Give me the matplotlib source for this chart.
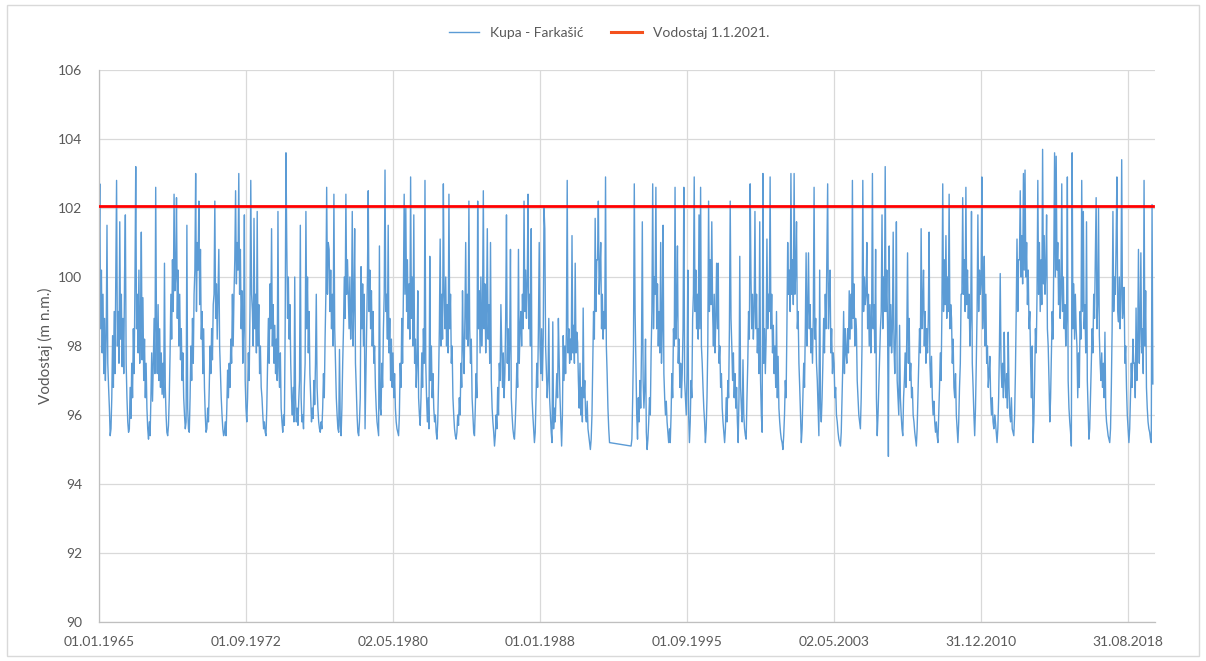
import numpy as np
import pandas as pd
import matplotlib
matplotlib.use("Agg")
import matplotlib.pyplot as plt
from matplotlib.lines import Line2D
from matplotlib.patches import Rectangle

nan = np.nan

# Water level of the Kupa at Farkašić (m a.s.l.), 24 readings per year (half-monthly)
levels_1965_1969 = [
    100.5, 102.7, 98.5, 100.2, 97.8, 99.5, 97.2, 98.8, 97.0, 98.2, 101.5, 97.5, 96.8, 96.2, 95.4, 95.6, 96.5, 98.3, 96.8, 99.0, 97.2, 100.0, 102.8, 98.0,
    99.0, 97.5, 101.6, 98.2, 99.5, 97.4, 98.8, 97.2, 100.0, 101.8, 97.5, 96.5, 95.8, 95.5, 95.6, 96.8, 95.9, 97.5, 96.5, 98.5, 97.2, 99.8, 103.2, 98.5,
    99.5, 97.8, 100.2, 97.5, 98.8, 101.3, 97.6, 99.4, 97.0, 98.2, 96.5, 97.5, 96.2, 95.6, 95.3, 95.8, 95.4, 96.5, 97.8, 96.4, 97.5, 98.8, 97.2, 102.6,
    98.5, 97.2, 99.2, 97.0, 98.5, 96.8, 97.8, 96.6, 97.5, 96.5, 100.4, 96.8, 96.0, 95.5, 95.4, 95.7, 96.5, 97.8, 99.5, 98.2, 100.5, 99.0, 102.4, 99.6,
    100.0, 102.3, 98.8, 100.2, 98.0, 99.5, 97.6, 98.5, 97.0, 97.8, 96.5, 96.0, 95.6, 95.8, 101.5, 96.2, 95.6, 95.5, 96.5, 98.0, 97.0, 98.8, 97.5, 99.5,
]
levels_1970_1974 = [
    100.2, 103.0, 99.0, 101.0, 100.2, 102.2, 99.2, 100.8, 98.2, 99.0, 97.2, 98.5, 96.8, 96.0, 95.5, 95.6, 96.2, 95.8, 96.8, 98.0, 97.2, 98.5, 97.6, 99.2,
    99.5, 102.2, 98.8, 99.8, 98.2, 99.5, 100.8, 98.0, 97.2, 96.5, 96.0, 95.6, 95.4, 95.5, 95.8, 95.4, 96.2, 97.3, 96.5, 97.5, 96.8, 98.2, 97.5, 99.5,
    98.0, 99.5, 100.5, 102.5, 99.8, 101.0, 100.2, 103.0, 99.5, 100.8, 98.5, 99.6, 97.5, 98.5, 101.8, 97.0, 96.2, 95.8, 96.5, 97.8, 97.0, 99.0, 102.8, 99.5,
    99.0, 98.0, 101.7, 98.5, 99.5, 97.8, 101.9, 98.0, 99.2, 97.2, 98.0, 96.8, 96.5, 96.0, 95.6, 95.8, 95.5, 95.4, 96.2, 97.5, 98.8, 97.5, 99.8, 98.5,
    101.4, 98.0, 99.2, 97.5, 98.6, 97.2, 98.2, 97.0, 101.9, 97.4, 96.8, 97.8, 96.2, 95.8, 95.5, 96.0, 95.7, 98.5, 103.6, 101.0, 98.8, 100.0, 98.2, 99.2,
]
levels_1975_1979 = [
    97.5, 96.5, 96.0, 96.8, 95.8, 100.0, 96.5, 95.8, 96.2, 95.7, 96.4, 97.0, 101.5, 96.5, 95.8, 96.0, 95.6, 96.8, 97.5, 101.9, 98.5, 100.0, 97.8, 99.0,
    97.2, 96.5, 95.8, 96.2, 95.9, 97.0, 96.3, 97.5, 99.5, 96.8, 96.2, 95.8, 95.6, 95.5, 95.8, 95.6, 96.2, 97.2, 96.5, 98.2, 99.5, 102.6, 99.5, 101.0,
    100.8, 99.0, 100.2, 98.5, 99.5, 98.0, 102.4, 98.5, 97.5, 96.5, 96.0, 95.6, 95.5, 97.9, 95.7, 95.4, 96.2, 97.5, 98.5, 100.0, 98.8, 102.4, 99.5, 100.5,
    99.5, 98.5, 100.0, 98.2, 99.0, 101.9, 98.0, 99.2, 101.4, 97.5, 96.8, 96.0, 95.5, 95.4, 95.8, 96.5, 100.3, 98.5, 99.8, 98.0, 99.5, 95.6, 97.0, 98.5,
    100.0, 102.5, 99.0, 100.2, 98.5, 99.6, 98.0, 99.0, 97.5, 98.0, 96.8, 96.2, 95.8, 95.6, 95.4, 100.9, 96.2, 96.0, 97.5, 96.8, 98.5, 99.5, 103.1, 99.0,
]
levels_1980_1984 = [
    99.5, 98.2, 101.5, 97.8, 98.8, 97.0, 98.2, 96.8, 97.8, 96.5, 97.2, 96.2, 95.8, 95.6, 95.5, 95.4, 96.0, 97.5, 96.8, 98.8, 97.5, 99.5, 102.4, 99.5,
    102.0, 99.0, 100.5, 98.5, 99.8, 98.2, 102.9, 98.8, 100.0, 98.0, 101.8, 97.5, 98.2, 96.8, 97.5, 99.6, 96.5, 96.0, 95.7, 96.5, 97.8, 96.8, 98.5, 97.5,
    102.8, 97.5, 96.5, 95.8, 96.5, 95.6, 100.6, 97.0, 98.0, 96.5, 97.2, 96.2, 95.8, 96.0, 95.5, 95.3, 95.8, 97.0, 98.5, 101.1, 98.0, 99.5, 98.2, 102.7,
    99.5, 98.5, 100.0, 98.0, 99.2, 97.8, 102.4, 98.5, 99.5, 97.5, 98.0, 96.5, 96.0, 95.6, 95.4, 95.3, 95.5, 96.0, 95.7, 96.5, 96.0, 97.5, 96.8, 99.6,
    98.0, 97.2, 98.8, 101.0, 98.2, 99.5, 98.0, 102.2, 98.5, 97.5, 98.2, 96.5, 96.0, 95.5, 95.4, 96.2, 97.2, 96.5, 102.2, 98.5, 99.6, 97.8, 100.0, 98.0,
]
levels_1985_1989 = [
    99.0, 102.5, 98.5, 99.8, 97.8, 99.0, 101.4, 98.2, 99.2, 97.5, 101.0, 97.0, 96.2, 95.8, 95.5, 95.1, 95.4, 96.0, 95.6, 96.8, 96.0, 97.5, 97.0, 99.2,
    98.0, 96.8, 97.8, 96.5, 97.2, 98.8, 101.8, 97.5, 98.5, 97.0, 98.0, 100.8, 96.5, 96.0, 95.6, 95.4, 95.3, 95.8, 96.5, 97.5, 96.8, 100.8, 97.5, 98.5,
    99.0, 98.0, 99.5, 98.5, 102.2, 99.0, 100.2, 98.8, 99.8, 102.4, 98.5, 99.5, 98.0, 101.4, 96.5, 96.0, 95.6, 95.2, 95.5, 96.5, 97.5, 96.8, 98.5, 101.0,
    98.0, 97.2, 98.5, 97.0, 98.2, 102.0, 101.4, 98.0, 97.2, 96.5, 97.0, 98.8, 96.5, 96.0, 95.5, 95.2, 98.7, 95.6, 96.2, 95.8, 96.5, 97.2, 96.5, 98.8,
    97.5, 96.5, 95.8, 95.1, 96.0, 98.3, 97.0, 98.0, 97.2, 98.5, 102.8, 97.8, 98.5, 97.5, 98.2, 97.6, 101.2, 97.8, 98.6, 97.5, 100.4, 97.8, 98.4, 98.1,
]
# readings missing from mid-1991 to autumn 1992
levels_1990_1994 = [
    97.0, 96.2, 97.5, 96.0, 96.8, 95.8, 99.1, 96.5, 97.0, 96.0, 95.8, 96.4, 95.6, 95.4, 95.2, 95.0, 95.3, 96.0, 97.5, 99.0, 98.2, 101.7, 99.0, 100.5,
    100.5, 102.2, 99.5, 100.2, 101.0, 98.5, 99.5, 98.2, 99.0, 98.5, 102.9, 98.0, 97.2, 96.2, 95.6, 95.2, nan, nan, nan, nan, nan, nan, nan, nan,
    nan, nan, nan, nan, nan, nan, nan, nan, nan, nan, nan, nan, nan, nan, nan, nan, nan, nan, 95.1, 95.3, 96.5, 98.0, 102.7, 99.0,
    97.5, 96.0, 95.3, 96.5, 95.8, 97.0, 96.2, 98.0, 101.6, 97.0, 96.2, 96.8, 98.2, 95.5, 95.0, 95.3, 95.8, 96.5, 96.0, 97.8, 99.0, 102.7, 98.5, 100.0,
    99.5, 102.6, 98.5, 99.8, 98.0, 99.0, 97.8, 101.0, 97.5, 98.5, 101.5, 97.2, 96.5, 96.0, 96.4, 95.8, 95.5, 95.2, 95.6, 95.2, 96.0, 97.2, 96.5, 98.5,
]
levels_1995_1999 = [
    98.0, 102.6, 98.2, 99.0, 100.9, 97.5, 98.2, 96.8, 97.5, 96.5, 97.2, 98.5, 102.6, 97.0, 96.5, 96.0, 97.2, 100.2, 96.0, 95.2, 95.8, 97.0, 96.5, 98.8,
    99.5, 102.9, 99.0, 100.2, 98.5, 99.5, 98.2, 101.8, 98.5, 102.6, 98.0, 97.5, 96.8, 96.2, 95.8, 95.2, 95.6, 96.5, 98.0, 102.2, 99.0, 100.5, 99.2, 101.6,
    99.0, 98.0, 99.5, 97.8, 98.8, 100.4, 98.5, 100.4, 97.5, 98.0, 96.8, 97.2, 96.2, 95.8, 95.5, 95.2, 95.6, 96.5, 95.8, 97.0, 96.5, 98.5, 102.2, 98.8,
    98.0, 97.0, 97.8, 96.5, 97.2, 96.2, 96.8, 95.8, 95.2, 96.5, 100.6, 96.8, 96.2, 95.8, 97.6, 96.0, 95.6, 95.4, 95.3, 96.5, 97.5, 99.0, 98.2, 102.7,
    100.0, 98.5, 99.5, 98.2, 99.0, 101.9, 98.5, 99.5, 97.8, 98.5, 97.2, 101.6, 97.0, 96.0, 95.5, 103.0, 97.5, 98.5, 97.2, 98.2, 101.1, 98.5, 99.5, 99.0,
]
levels_2000_2004 = [
    102.9, 98.5, 99.5, 97.8, 98.6, 97.2, 98.0, 96.8, 99.0, 96.5, 97.7, 96.2, 95.8, 95.5, 95.3, 95.2, 95.0, 95.4, 96.0, 97.0, 96.5, 98.5, 101.0, 99.5,
    100.2, 99.0, 103.0, 99.5, 100.5, 99.2, 103.0, 99.5, 100.2, 101.6, 98.5, 99.0, 97.5, 96.8, 96.0, 95.2, 95.6, 96.5, 97.5, 96.8, 98.5, 100.7, 98.0, 99.0,
    100.7, 98.5, 99.2, 97.8, 98.5, 97.5, 98.8, 102.6, 98.2, 98.8, 97.5, 97.0, 96.2, 95.4, 100.2, 96.2, 95.8, 96.5, 97.5, 98.8, 97.8, 99.5, 98.5, 100.5,
    102.7, 98.5, 99.5, 100.2, 97.8, 98.5, 97.2, 97.8, 97.5, 96.5, 96.8, 96.0, 95.8, 95.5, 95.3, 95.2, 95.1, 95.5, 96.5, 97.5, 99.0, 97.2, 98.5, 97.8,
    97.5, 98.5, 97.8, 99.6, 98.2, 99.5, 98.5, 102.8, 98.8, 99.8, 98.0, 98.8, 98.5, 97.0, 96.5, 96.0, 95.8, 95.6, 96.5, 98.0, 102.8, 99.0, 100.0, 99.2,
]
levels_2005_2009 = [
    99.5, 101.0, 98.5, 99.5, 98.0, 99.2, 97.8, 98.8, 103.0, 98.5, 99.2, 97.8, 100.8, 96.5, 95.4, 96.0, 96.8, 97.5, 98.5, 99.0, 101.8, 98.5, 100.0, 99.0,
    103.2, 99.0, 100.2, 98.5, 94.8, 100.9, 98.0, 99.2, 97.8, 98.5, 101.3, 98.0, 97.2, 98.5, 101.6, 97.0, 96.5, 96.0, 98.6, 96.5, 96.0, 95.6, 95.4, 96.5,
    97.0, 97.8, 96.8, 98.2, 100.7, 97.5, 98.8, 97.0, 97.5, 96.5, 96.8, 96.0, 95.8, 95.5, 95.3, 95.1, 95.6, 96.5, 97.5, 98.5, 97.8, 101.4, 98.5, 99.2,
    100.2, 98.0, 99.0, 97.5, 98.5, 97.8, 98.8, 101.3, 97.5, 96.8, 97.7, 96.5, 96.0, 96.4, 95.8, 95.5, 95.8, 95.4, 95.2, 96.0, 96.8, 97.8, 97.0, 99.0,
    102.7, 99.0, 100.5, 99.2, 101.2, 98.8, 100.0, 99.0, 102.4, 98.5, 99.2, 98.8, 97.5, 98.2, 96.8, 96.5, 97.2, 96.0, 95.6, 95.2, 95.8, 96.8, 97.5, 99.5,
]
levels_2010_2014 = [
    99.5, 102.3, 99.5, 100.5, 99.0, 102.6, 99.2, 100.2, 98.8, 99.5, 98.0, 98.8, 101.9, 97.5, 96.8, 96.0, 95.4, 96.2, 97.5, 99.0, 101.8, 99.0, 100.2, 99.5,
    99.8, 102.9, 98.5, 99.2, 100.6, 98.0, 99.5, 97.5, 98.0, 96.8, 97.2, 97.7, 96.5, 96.0, 96.5, 95.8, 95.6, 96.0, 95.8, 95.5, 95.2, 95.6, 96.5, 98.0,
    100.1, 97.5, 96.8, 97.5, 96.5, 98.4, 97.0, 96.5, 97.2, 96.2, 98.4, 96.8, 96.0, 95.8, 96.5, 95.6, 95.5, 95.4, 96.0, 97.2, 99.0, 101.1, 99.0, 100.5,
    100.5, 102.5, 100.0, 101.2, 99.8, 103.0, 100.2, 103.1, 100.0, 101.0, 99.2, 100.2, 98.5, 99.0, 97.5, 96.5, 98.0, 95.2, 95.8, 97.0, 98.5, 97.8, 99.5, 102.8,
    99.5, 101.0, 99.0, 100.5, 99.2, 103.7, 99.8, 101.2, 99.5, 100.2, 101.8, 98.5, 98.0, 97.0, 95.8, 96.5, 97.8, 99.0, 98.2, 100.5, 103.6, 100.0, 103.5, 100.2,
]
levels_2015_2019 = [
    101.0, 99.2, 100.5, 98.8, 99.5, 102.7, 99.0, 100.0, 98.5, 99.2, 98.0, 98.8, 102.9, 97.0, 96.2, 95.8, 95.5, 95.1, 103.6, 98.5, 99.8, 98.2, 99.5, 98.5,
    98.0, 96.5, 97.8, 96.8, 99.0, 98.2, 102.8, 99.0, 101.9, 98.5, 99.2, 97.8, 101.6, 97.0, 96.2, 95.3, 95.6, 96.5, 97.5, 98.5, 97.8, 99.5, 98.8, 100.5,
    102.3, 98.5, 99.2, 102.0, 98.3, 97.5, 97.0, 97.8, 96.8, 97.5, 96.5, 98.4, 96.2, 95.8, 95.6, 95.4, 95.3, 95.2, 95.6, 96.8, 98.5, 101.9, 99.0, 100.0,
    99.5, 101.0, 102.9, 99.0, 98.7, 100.0, 98.5, 99.5, 103.4, 98.8, 99.2, 99.7, 97.5, 98.0, 96.8, 96.0, 95.6, 95.2, 95.6, 96.5, 97.5, 96.8, 98.2, 97.5,
    97.5, 96.5, 99.1, 97.0, 98.0, 100.8, 97.5, 98.5, 100.7, 97.8, 98.5, 97.2, 102.8, 98.0, 99.6, 96.8, 96.2, 95.8, 95.6, 95.5, 95.3, 95.2, 102.1, 96.9,
]

level_2021 = 102.05           # water level on 1.1.2021
series_label = "Kupa - Farkašić"
level_label = "Vodostaj 1.1.2021."
y_ticks = [90, 92, 94, 96, 98, 100, 102, 104, 106]
x_tick_labels = ["01.01.1965", "01.09.1972", "02.05.1980", "01.01.1988",
                 "01.09.1995", "02.05.2003", "31.12.2010", "31.08.2018"]

first_year = 1965
per_year = 24
blocks = [levels_1965_1969, levels_1970_1974, levels_1975_1979, levels_1980_1984,
          levels_1985_1989, levels_1990_1994, levels_1995_1999, levels_2000_2004,
          levels_2005_2009, levels_2010_2014, levels_2015_2019]
for b in blocks:
    assert len(b) == 5 * per_year
values = np.concatenate([np.asarray(b, dtype=float) for b in blocks])
idx = np.arange(len(values))
years = first_year + idx // per_year
steps = idx % per_year
dates = (pd.to_datetime([f"{y}-01-01" for y in years])
         + pd.to_timedelta(steps * 365.25 / per_year, unit="D"))
level = pd.Series(values, index=dates).dropna()   # gaps are bridged by a straight line

font = ["Lato", "DejaVu Sans"]
plt.rcParams["font.family"] = font
grey_text = "#595959"
grid_col = "#D9D9D9"

fig = plt.figure(figsize=(12.06, 6.61), dpi=100)
fig.patch.set_facecolor("white")
fig.add_artist(Rectangle((0.006, 0.008), 0.988, 0.984, transform=fig.transFigure,
                         fill=False, edgecolor=grid_col, linewidth=1.0))

ax = fig.add_axes([99 / 1206, 1 - 622 / 661, (1155 - 99) / 1206, (622 - 70) / 661])

ax.plot(level.index, level.values, color="#5B9BD5", linewidth=1.0, zorder=2)
ax.plot([level.index[0], level.index[-1]], [level_2021, level_2021],
        color="#FF0000", linewidth=2.0, zorder=3)

origin = pd.Timestamp("1965-01-01")
tick_dates = [pd.Timestamp(pd.to_datetime(s, format="%d.%m.%Y")) for s in x_tick_labels]
ax.set_xticks(tick_dates)
ax.set_xticklabels(x_tick_labels)
ax.set_xlim(origin, origin + pd.Timedelta(days=20114))
ax.set_ylim(90, 106)
ax.set_yticks(y_ticks)
ax.set_yticklabels([str(v) for v in y_ticks])

ax.grid(True, color=grid_col, linewidth=0.9, zorder=0)
ax.set_axisbelow(True)
for side in ("top", "right"):
    ax.spines[side].set_visible(False)
for side in ("left", "bottom"):
    ax.spines[side].set_color("#BFBFBF")
    ax.spines[side].set_linewidth(0.9)
ax.tick_params(length=0, colors=grey_text, labelsize=10)
ax.tick_params(axis="x", pad=10)
ax.tick_params(axis="y", pad=12)
ax.set_ylabel("Vodostaj (m n.m.)", color=grey_text, fontsize=11, labelpad=4)

handles = [Line2D([], [], color="#5B9BD5", linewidth=1.0),
           Line2D([], [], color="#F4511E", linewidth=2.2)]
fig.legend(handles, [series_label, level_label], loc="center", ncol=2,
           bbox_to_anchor=(0.505, 1 - 33 / 661), frameon=False, fontsize=10,
           labelcolor=grey_text, handlelength=2.2, columnspacing=2.0)

fig.savefig("out.png", dpi=100)
